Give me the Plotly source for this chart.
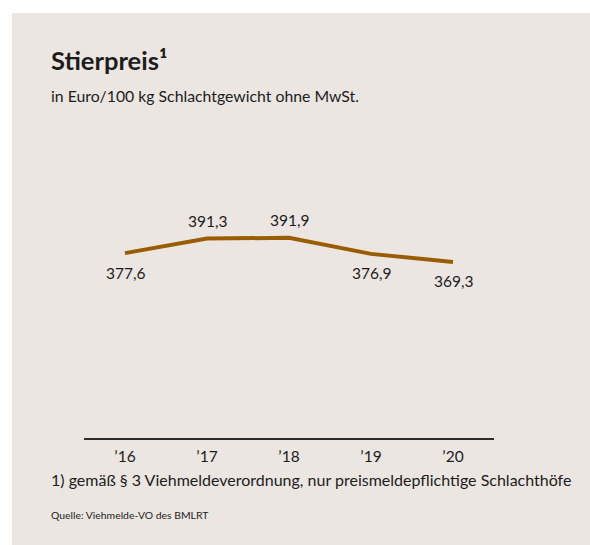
import plotly.graph_objects as go

years = ["’16", "’17", "’18", "’19", "’20"]
prices = [377.6, 391.3, 391.9, 376.9, 369.3]
price_labels = ["377,6", "391,3", "391,9", "376,9", "369,3"]
label_side = ["below", "above", "above", "below", "below"]

W, H = 590, 545
# plot area in pixels
SX0, SX1, SY0, SY1 = 84, 494, 130, 438
L, R, T, B = SX0, W - SX1, SY0, H - SY1
PW, PH = SX1 - SX0, SY1 - SY0

def px(x):
    return (x - SX0) / PW

def py(y):
    return (SY1 - y) / PH

FONT = "Lato"
TXT = "#1c1c1c"
BG = "#ebe6e2"
LINE = "#9a5c00"

fig = go.Figure()
fig.add_trace(go.Scatter(
    x=years, y=prices, mode="lines",
    line=dict(color=LINE, width=4), hoverinfo="skip", showlegend=False,
))

for yr, v, lab, side in zip(years, prices, price_labels, label_side):
    fig.add_annotation(
        x=yr, y=v, xref="x", yref="y", text=lab, showarrow=False,
        yshift=18 if side == "above" else -19.5,
        font=dict(family=FONT, size=15.5, color=TXT),
    )

# white page border on top and left of the beige panel
fig.add_shape(type="rect", xref="paper", yref="paper",
              x0=px(-10), x1=px(610), y0=py(13), y1=py(-10),
              fillcolor="white", line=dict(width=0), layer="below")
fig.add_shape(type="rect", xref="paper", yref="paper",
              x0=px(-10), x1=px(12), y0=py(560), y1=py(-10),
              fillcolor="white", line=dict(width=0), layer="below")

fig.add_annotation(xref="paper", yref="paper", x=px(49), y=py(60),
                   xanchor="left", yanchor="middle", showarrow=False,
                   text="<b>Stierpreis¹</b>",
                   font=dict(family=FONT, size=25.5, color=TXT))
fig.add_annotation(xref="paper", yref="paper", x=px(49), y=py(96),
                   xanchor="left", yanchor="middle", showarrow=False,
                   text="in Euro/100 kg Schlachtgewicht ohne MwSt.",
                   font=dict(family=FONT, size=15.8, color=TXT))
fig.add_annotation(xref="paper", yref="paper", x=px(49), y=py(480),
                   xanchor="left", yanchor="middle", showarrow=False,
                   text="1) gemäß § 3 Viehmeldeverordnung, nur preismeldepflichtige Schlachthöfe",
                   font=dict(family=FONT, size=16, color=TXT))
fig.add_annotation(xref="paper", yref="paper", x=px(49), y=py(515),
                   xanchor="left", yanchor="middle", showarrow=False,
                   text="Quelle: Viehmelde-VO des BMLRT",
                   font=dict(family=FONT, size=10.4, color=TXT))

fig.update_layout(
    width=W, height=H,
    margin=dict(l=L, r=R, t=T, b=B, pad=0),
    paper_bgcolor=BG, plot_bgcolor=BG,
    xaxis=dict(type="category", range=[-0.5, 4.5], showline=True,
               linecolor="#2b2b2b", linewidth=2, showgrid=False,
               zeroline=False, ticks="", ticklabelstandoff=3,
               tickfont=dict(family=FONT, size=15.5, color=TXT), fixedrange=True),
    yaxis=dict(range=[204.5, 204.5 + PH / 1.068], visible=False,
               showgrid=False, zeroline=False, fixedrange=True),
)

fig.write_html(
    "out.html",
    config={"displayModeBar": False},
    post_script="document.body.style.margin='0';document.body.style.overflow='hidden';document.body.style.background='#ebe6e2';",
)
